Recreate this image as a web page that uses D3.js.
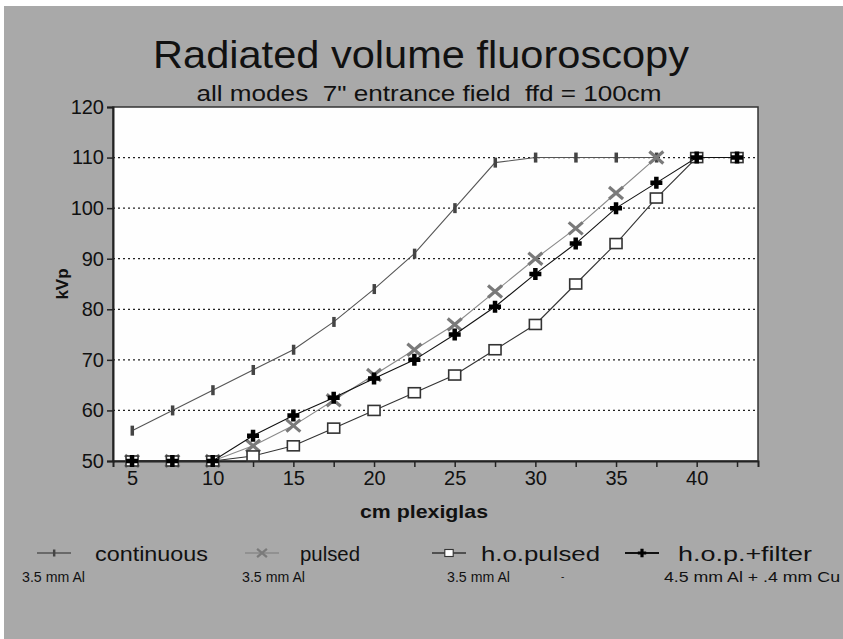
<!DOCTYPE html>
<html>
<head>
<meta charset="utf-8">
<script src="https://cdn.jsdelivr.net/npm/d3@7"></script>
<style>
body { margin:0; background:#fff; }
svg text { font-family: "Liberation Sans", Arial, sans-serif; fill:#111; }
</style>
</head>
<body>
<svg id="chart" width="843" height="639"></svg>
<script>
// cm plexiglas
const thickness = [5, 7.5, 10, 12.5, 15, 17.5, 20, 22.5, 25, 27.5, 30, 32.5, 35, 37.5, 40, 42.5];
// kVp per mode
const continuous = [56, 60, 64, 68, 72, 77.5, 84, 91, 100, 109, 110, 110, 110, 110];
const pulsed     = [50, 50, 50, 53, 57, 62, 67, 72, 77, 83.5, 90, 96, 103, 110];
const hoPulsed   = [50, 50, 50, 51, 53, 56.5, 60, 63.5, 67, 72, 77, 85, 93, 102, 110, 110];
const hopFilter  = [50, 50, 50, 55, 59, 62.5, 66.3, 70, 75, 80.5, 87, 93, 100, 105, 110, 110];
const seriesNames = ["continuous", "pulsed", "h.o.pulsed", "h.o.p.+filter"];
const filters = ["3.5 mm Al", "3.5 mm Al", "3.5 mm Al", "4.5 mm Al + .4 mm Cu"];
const yTicks = [50, 60, 70, 80, 90, 100, 110, 120];
const xLabels = [5, 10, 15, 20, 25, 30, 35, 40];

const svg = d3.select("#chart");
svg.append("rect").attr("x",4).attr("y",6).attr("width",839).attr("height",633).attr("fill","#a9a9a9");

const pL = 113, pR = 758, pT = 107, pB = 461;
const x = d3.scaleLinear().domain([3.82, 43.8]).range([pL, pR]);
const y = d3.scaleLinear().domain([50, 120]).range([pB, pT]);

svg.append("rect").attr("x",pL).attr("y",pT).attr("width",pR-pL).attr("height",pB-pT)
  .attr("fill","#fefefe").attr("stroke","#333").attr("stroke-width",1.5);

// grid
svg.selectAll(".grid").data(yTicks.filter(d=>d>50 && d<120)).enter().append("line")
  .attr("x1",pL).attr("x2",pR).attr("y1",d=>y(d)).attr("y2",d=>y(d))
  .attr("stroke","#222").attr("stroke-width",1.3).attr("stroke-dasharray","2,3");

// axes
const yAxis = svg.append("g").attr("transform",`translate(${pL},0)`)
  .call(d3.axisLeft(y).tickValues(yTicks).tickSize(6).tickPadding(3));
const xAxis = svg.append("g").attr("transform",`translate(0,${pB})`)
  .call(d3.axisBottom(x).tickValues(thickness).tickSize(6).tickPadding(4)
    .tickFormat(d=>xLabels.includes(d)?d:""));
[yAxis, xAxis].forEach(g=>{
  g.select(".domain").attr("stroke","#222").attr("stroke-width",2);
  g.selectAll(".tick line").attr("stroke","#222").attr("stroke-width",1.5);
  g.selectAll("text").attr("font-size",20).attr("font-family","Liberation Sans, Arial, sans-serif").attr("fill","#222");
});

// titles
svg.append("text").attr("x",421).attr("y",68).attr("text-anchor","middle").attr("font-size",39)
  .attr("textLength",536).attr("lengthAdjust","spacingAndGlyphs").text("Radiated volume fluoroscopy");
svg.append("text").attr("x",429).attr("y",101).attr("text-anchor","middle").attr("font-size",22).attr("xml:space","preserve")
  .attr("textLength",465).attr("lengthAdjust","spacingAndGlyphs").text("all modes  7\" entrance field  ffd = 100cm");
svg.append("text").attr("transform","translate(68,284) rotate(-90)").attr("text-anchor","middle")
  .attr("font-size",17).attr("font-weight","bold").text("kVp");
svg.append("text").attr("x",424).attr("y",518).attr("text-anchor","middle")
  .attr("font-size",19).attr("font-weight","bold").attr("textLength",128).attr("lengthAdjust","spacingAndGlyphs").text("cm plexiglas");

// marker painters
function markBar(g, c){ g.append("rect").attr("x",-1.5).attr("y",-5).attr("width",3.5).attr("height",10).attr("fill",c); }
function markX(g, c){ g.append("path").attr("d","M-7,-6L7,6M-7,6L7,-6").attr("stroke",c).attr("stroke-width",3.2).attr("fill","none"); }
function markSq(g, c){ g.append("rect").attr("x",-6).attr("y",-5).attr("width",12).attr("height",10).attr("fill","#fff").attr("stroke",c).attr("stroke-width",1.6); }
function markPlus(g, c){ g.append("path").attr("d","M-6,0L6,0M0,-6L0,6").attr("stroke",c).attr("stroke-width",4.5).attr("fill","none"); }

const series = [
  {name:seriesNames[0], vals:continuous, line:"#555", mark:markBar, mc:"#444"},
  {name:seriesNames[1], vals:pulsed, line:"#8a8a8a", mark:markX, mc:"#7a7a7a"},
  {name:seriesNames[2], vals:hoPulsed, line:"#333", mark:markSq, mc:"#333"},
  {name:seriesNames[3], vals:hopFilter, line:"#111", mark:markPlus, mc:"#000"}
];

const line = d3.line().x(d=>x(d[0])).y(d=>y(d[1]));
series.forEach(s=>{
  const pts = s.vals.map((v,i)=>[thickness[i], v]);
  svg.append("path").datum(pts).attr("d",line).attr("fill","none").attr("stroke",s.line).attr("stroke-width",1.1);
  pts.forEach(p=>{
    const g = svg.append("g").attr("transform",`translate(${x(p[0])},${y(p[1])})`);
    s.mark(g, s.mc);
  });
});

// legend
const legX = [37, 245, 432, 625];
const textOff = [58, 55, 49, 53];
const textLen = [113, 60, 119, 134];
const subX = [22, 242, 447, 664];
const subLen = [63, 63, 63, 176];
series.forEach((s,i)=>{
  const g = svg.append("g").attr("transform",`translate(${legX[i]},553)`);
  g.append("line").attr("x1",0).attr("x2",34).attr("stroke",s.line).attr("stroke-width",s.name==="h.o.p.+filter"?2:1.5);
  const m = g.append("g").attr("transform","translate(17,0) scale(0.7)");
  s.mark(m, s.mc);
  g.append("text").attr("x",textOff[i]).attr("y",8).attr("font-size",21)
    .attr("textLength",textLen[i]).attr("lengthAdjust","spacingAndGlyphs").text(s.name);
  svg.append("text").attr("x",subX[i]).attr("y",582).attr("font-size",14)
    .attr("textLength",subLen[i]).attr("lengthAdjust","spacingAndGlyphs").text(filters[i]);
});
svg.append("text").attr("x",561).attr("y",580).attr("font-size",10).text("-");
</script>
</body>
</html>
